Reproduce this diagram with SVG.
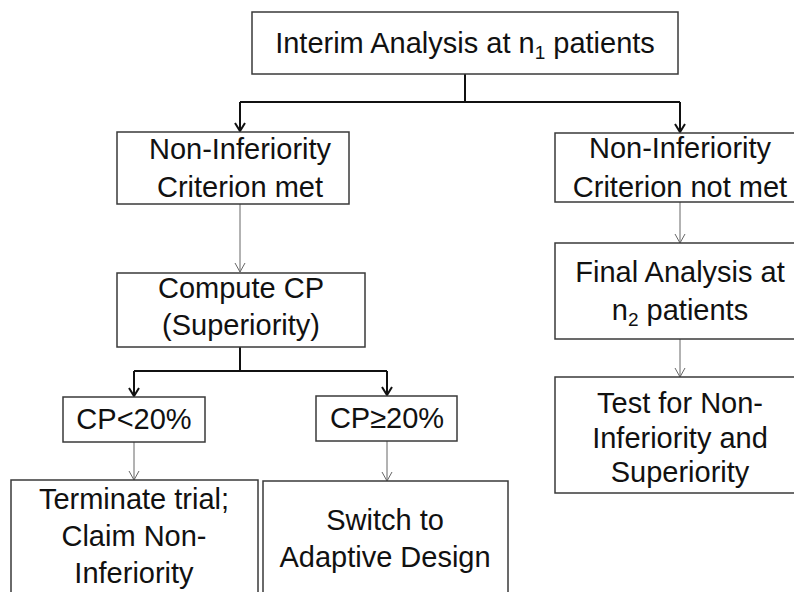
<svg xmlns="http://www.w3.org/2000/svg" width="794" height="592" viewBox="0 0 794 592">
<defs>
<style>
.box{fill:#fff;stroke:#3a3a3a;stroke-width:1.5}
.t{font-family:"Liberation Sans",Arial,sans-serif;font-size:29px;fill:#111;text-anchor:middle}
.thick{fill:none;stroke:#111;stroke-width:2}
.thin{fill:none;stroke:#666;stroke-width:1}
</style>
<marker id="ab" markerUnits="userSpaceOnUse" markerWidth="14" markerHeight="14" viewBox="-10 -7 12 14" refX="0" refY="0" orient="auto">
<path d="M-8,-5 L0,0 L-8,5" fill="none" stroke="#111" stroke-width="2"/>
</marker>
<marker id="ag" markerUnits="userSpaceOnUse" markerWidth="14" markerHeight="14" viewBox="-10 -7 12 14" refX="0" refY="0" orient="auto">
<path d="M-9,-5 L0,0 L-9,5" fill="none" stroke="#666" stroke-width="1"/>
</marker>
</defs>
<rect width="794" height="592" fill="#fff"/>
<g id="connectors">
<path class="thick" d="M465,74 V102 M240,102 H680"/>
<path class="thick" d="M240,102 V131" marker-end="url(#ab)"/>
<path class="thick" d="M680,102 V132" marker-end="url(#ab)"/>
<path class="thin" d="M240,204 V272" marker-end="url(#ag)"/>
<path class="thick" d="M240,347 V371 M134,371 H387"/>
<path class="thick" d="M134,371 V396" marker-end="url(#ab)"/>
<path class="thick" d="M387,371 V395" marker-end="url(#ab)"/>
<path class="thin" d="M134,442 V480" marker-end="url(#ag)"/>
<path class="thin" d="M387,441 V481" marker-end="url(#ag)"/>
<path class="thin" d="M680,202 V243" marker-end="url(#ag)"/>
<path class="thin" d="M680,339 V377" marker-end="url(#ag)"/>
</g>
<g id="interim">
<rect class="box" x="252" y="12" width="426" height="62"/>
<text class="t" x="465" y="53">Interim Analysis at n<tspan font-size="19" dy="6">1</tspan><tspan dy="-6"> patients</tspan></text>
</g>
<g id="ni-met">
<rect class="box" x="117" y="132" width="232" height="72"/>
<text class="t" x="240" y="159">Non-Inferiority</text>
<text class="t" x="240" y="197">Criterion met</text>
</g>
<g id="ni-not-met">
<rect class="box" x="555" y="133" width="250" height="69"/>
<text class="t" x="680" y="158">Non-Inferiority</text>
<text class="t" x="680" y="197">Criterion not met</text>
</g>
<g id="compute-cp">
<rect class="box" x="117" y="273" width="248" height="74"/>
<text class="t" x="241" y="298">Compute CP</text>
<text class="t" x="241" y="335">(Superiority)</text>
</g>
<g id="final">
<rect class="box" x="555" y="243" width="250" height="96"/>
<text class="t" x="680" y="282">Final Analysis at</text>
<text class="t" x="680" y="320">n<tspan font-size="19" dy="6">2</tspan><tspan dy="-6"> patients</tspan></text>
</g>
<g id="test">
<rect class="box" x="555" y="377" width="250" height="116"/>
<text class="t" x="680" y="413">Test for Non-</text>
<text class="t" x="680" y="448">Inferiority and</text>
<text class="t" x="680" y="482">Superiority</text>
</g>
<g id="cp-lt">
<rect class="box" x="63" y="397" width="142" height="45"/>
<text class="t" x="134" y="429">CP&lt;20%</text>
</g>
<g id="cp-ge">
<rect class="box" x="316" y="396" width="141" height="45"/>
<text class="t" x="387" y="428">CP≥20%</text>
</g>
<g id="terminate">
<rect class="box" x="11" y="480" width="247" height="130"/>
<text class="t" x="134" y="509">Terminate trial;</text>
<text class="t" x="134" y="546">Claim Non-</text>
<text class="t" x="134" y="583">Inferiority</text>
</g>
<g id="switch">
<rect class="box" x="263" y="481" width="245" height="130"/>
<text class="t" x="385" y="530">Switch to</text>
<text class="t" x="385" y="567">Adaptive Design</text>
</g>
</svg>
